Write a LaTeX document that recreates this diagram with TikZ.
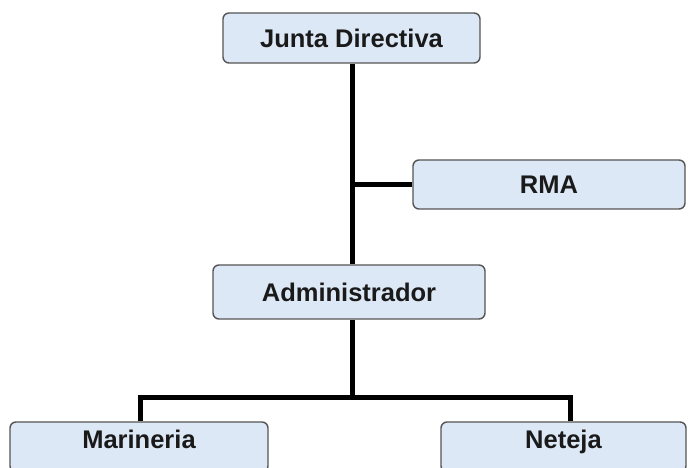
\documentclass[tikz,border=0pt]{standalone}
\usepackage{fontspec}
\setmainfont{Liberation Sans}
\definecolor{boxfill}{HTML}{DCE8F5}
\definecolor{boxline}{HTML}{555555}
\definecolor{txt}{HTML}{1A1A1A}
\begin{document}
\begin{tikzpicture}[x=1pt,y=1pt,
  orgbox/.style={draw=boxline,line width=1.4pt,fill=boxfill,rounded corners=6pt,
    inner sep=0pt,text=txt,font=\fontsize{25.5}{29}\selectfont\bfseries},
  cutbox/.style={orgbox,minimum height=50pt,text height=18pt,text depth=14.5pt},
  link/.style={draw=black,line width=5pt}]
\useasboundingbox (0,0) rectangle (688,468);
\clip (0,0) rectangle (688,468);
\node[orgbox,minimum width=257pt,minimum height=50pt] (junta) at (351.5,430) {Junta Directiva};
\node[orgbox,minimum width=272pt,minimum height=49pt] (rma) at (549,283.5) {RMA};
\node[orgbox,minimum width=272pt,minimum height=54pt] (admin) at (349,176) {Administrador};
\node[cutbox,minimum width=258pt] (mar) at (139,21) {Marineria};
\node[cutbox,minimum width=245pt] (net) at (563.5,21) {Neteja};
\coordinate (spine) at (352.5,0);
\coordinate (bus) at (0,70);
\path[link] (junta.south -| spine) -- (admin.north -| spine);
\path[link] (rma.west) -- (rma.west -| spine);
\path[link] (admin.south -| spine) -- (bus -| spine);
\path[link] ([xshift=1pt]mar.north) |- (bus -| spine);
\path[link] ([xshift=6.5pt]net.north) |- (bus -| spine);
\end{tikzpicture}
\end{document}
